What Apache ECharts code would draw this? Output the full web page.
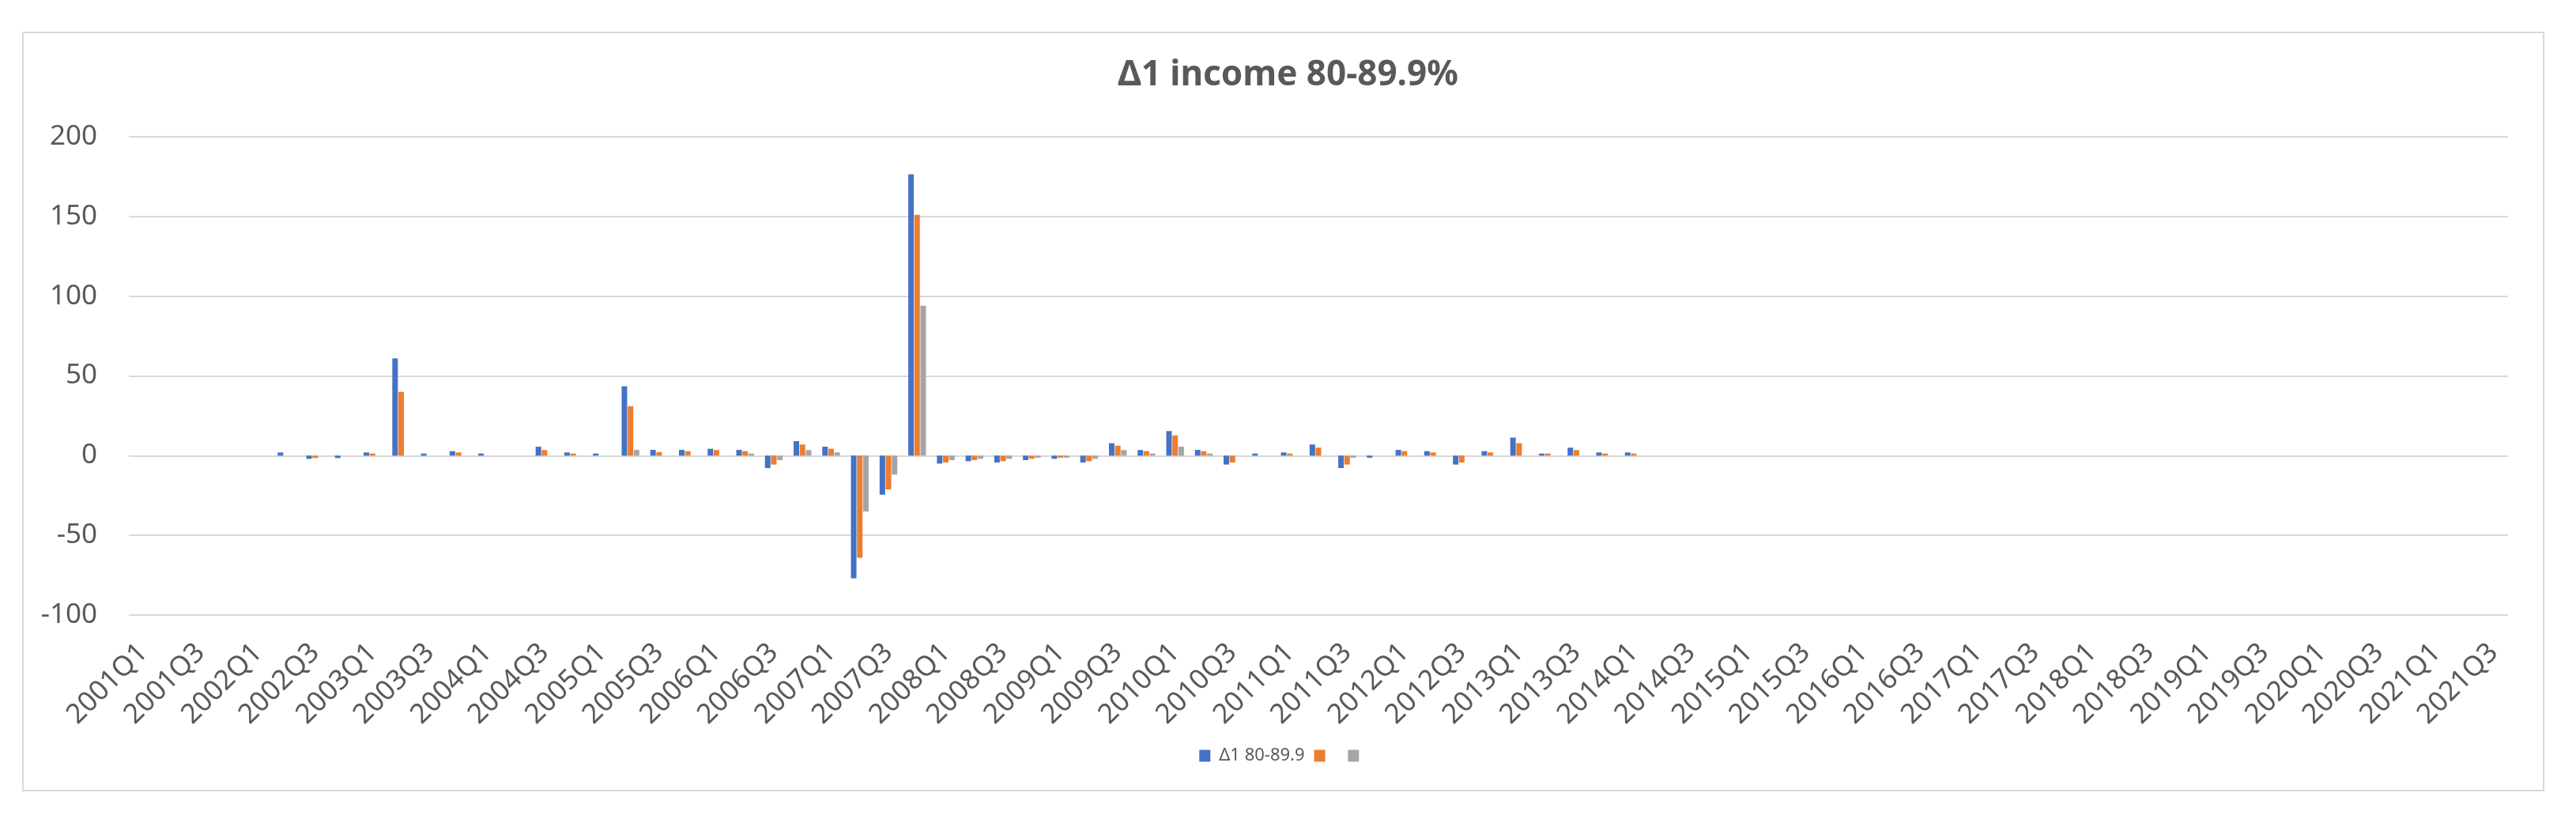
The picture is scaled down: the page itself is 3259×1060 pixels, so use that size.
<!DOCTYPE html>
<html>
<head>
<meta charset="utf-8">
<title>Δ1 income 80-89.9%</title>
<script src="https://cdn.jsdelivr.net/npm/echarts@6/dist/echarts.min.js"></script>
<style>
html, body { margin: 0; padding: 0; background: #fff; }
#chartDom { position: absolute; left: 0; top: 0; width: 3259px; height: 1060px; }
/* chart frame like the spreadsheet chart area */
#frame { position: absolute; left: 28px; top: 40px; width: 3187px; height: 957px; border: 2px solid #d9d9d9; pointer-events: none; }
</style>
</head>
<body>
<div id="chartDom"></div>
<div id="frame"></div>
<script>
// quarters 2001Q1 .. 2021Q3
const quarters = [];
for (let y = 2001; y <= 2021; y++) {
  for (let q = 1; q <= 4; q++) {
    if (y === 2021 && q > 3) break;
    quarters.push(y + "Q" + q);
  }
}

const seriesNames = ["Δ1 80-89.9", " ", "  "];
const yTicks = [-100, -50, 0, 50, 100, 150, 200];

// values, 2002Q2 .. 2014Q1 (earlier/later quarters empty)
const blueVals = [
  2, -2, -1.5, 2, 61, 1.3, 2.8, 1.3, 0, 5.6, 2, 1.3,
  43.5, 3.6, 3.6, 4.3, 3.6, -7.8, 9.1, 5.6, -77, -24.5, 176.5, -5,
  -3.5, -4.3, -2.8, -2, -4.3, 7.8, 3.5, 15.4, 3.6, -5.6, 1.3, 2,
  7, -7.8, -1.3, 3.6, 2.8, -5.6, 2.8, 11.3, 1.3, 5, 2, 2
];
const orangeVals = [
  0, -1.5, 0, 1.3, 40, 0, 2, 0, 0, 3.5, 1.3, 0,
  31, 2.2, 2.8, 3.5, 2.8, -5.6, 7, 4.3, -64, -21.2, 151, -4.3,
  -2.8, -3.5, -2, -1.3, -3.5, 6.3, 2.8, 12.7, 2.8, -4.3, 0, 1.3,
  5, -5.6, 0, 2.8, 2, -4.3, 2, 7.8, 1.3, 3.5, 1.3, 1.3
];
const grayVals = [
  0, 0, 0, 0, 0, 0, 0, 0, 0, 0, 0, 0,
  3.6, 0, 0, 0, 1.3, -2.8, 3.5, 2, -35, -11.9, 94, -2.8,
  -2, -2, -1.3, -1.3, -2, 3.5, 1.3, 5.6, 1.3, 0, 0, 0,
  0, -1.3, 0, 0, 0, 0, 0, 0, 0, 0, 0, 0
];
const firstQuarter = "2002Q2";

function fullSeries(vals) {
  const start = quarters.indexOf(firstQuarter);
  return quarters.map((q, i) => (i >= start && i < start + vals.length) ? vals[i - start] : null);
}

const colors = ["#4472C4", "#ED7D31", "#A5A5A5"];
const allVals = [blueVals, orangeVals, grayVals];

let myChart = echarts.init(document.getElementById("chartDom"));
myChart.setOption({
  animation: false,
  color: colors,
  title: {
    text: "Δ1 income 80-89.9%",
    left: "center",
    top: 68,
    textStyle: { fontFamily: "Noto Sans", fontSize: 44, fontWeight: "bold", color: "#595959" }
  },
  legend: {
    data: seriesNames,
    left: "center",
    top: 940,
    itemWidth: 14,
    itemHeight: 15,
    itemGap: 12,
    icon: "rect",
    textStyle: { fontFamily: "Noto Sans", fontSize: 22, color: "#595959", padding: [0, 0, 0, 6] }
  },
  grid: { left: 163, right: 86, top: 173, bottom: 282 },
  xAxis: {
    type: "category",
    data: quarters,
    axisLine: { show: false, onZero: false },
    axisTick: { show: false },
    axisLabel: {
      interval: 1,
      rotate: 45,
      margin: 42,
      fontFamily: "Noto Sans",
      fontSize: 35,
      color: "#595959"
    }
  },
  yAxis: {
    type: "value",
    min: yTicks[0],
    max: yTicks[yTicks.length - 1],
    interval: 50,
    axisLine: { show: false },
    axisTick: { show: false },
    axisLabel: { margin: 40, fontFamily: "Noto Sans", fontSize: 35, color: "#595959" },
    splitLine: { lineStyle: { color: "#d9d9d9", width: 2 } }
  },
  series: seriesNames.map((name, k) => ({
    name: name,
    type: "bar",
    data: fullSeries(allVals[k]),
    barWidth: 7,
    barGap: "10%",
    itemStyle: { color: colors[k] }
  }))
});
</script>
</body>
</html>
